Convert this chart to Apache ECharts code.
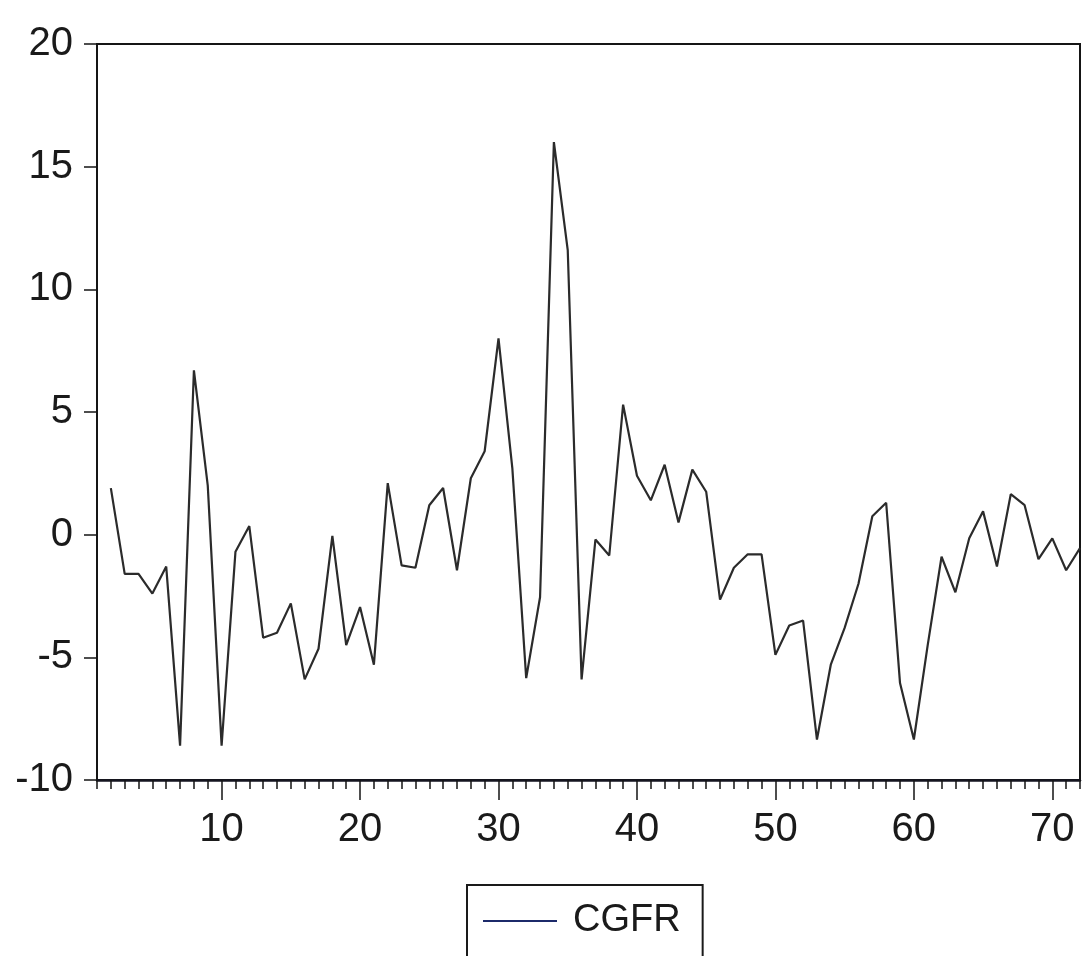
<!DOCTYPE html>
<html>
<head>
<meta charset="utf-8">
<script src="https://cdn.jsdelivr.net/npm/echarts@6/dist/echarts.min.js"></script>
<style>
html,body{margin:0;padding:0;background:#fff;}
#chart{width:1084px;height:956px;}
</style>
</head>
<body>
<div id="chart"></div>
<script>
// Observation numbers (first observation missing)
const obs = [2,3,4,5,6,7,8,9,10,11,12,13,14,15,16,17,18,19,20,21,22,23,24,25,26,27,28,29,30,31,32,33,34,35,36,37,38,39,40,41,42,43,44,45,46,47,48,49,50,51,52,53,54,55,56,57,58,59,60,61,62,63,64,65,66,67,68,69,70,71,72];
// CGFR values
const cgfr = [1.9,-1.6,-1.6,-2.4,-1.3,-8.6,6.7,2.0,-8.6,-0.7,0.35,-4.2,-4.0,-2.8,-5.9,-4.65,-0.05,-4.5,-2.95,-5.3,2.1,-1.25,-1.35,1.2,1.9,-1.45,2.3,3.4,8.0,2.7,-5.85,-2.55,16.0,11.6,-5.9,-0.2,-0.85,5.3,2.4,1.4,2.85,0.5,2.65,1.75,-2.65,-1.35,-0.8,-0.8,-4.9,-3.7,-3.5,-8.35,-5.3,-3.8,-2.0,0.75,1.3,-6.05,-8.35,-4.5,-0.9,-2.35,-0.15,0.95,-1.3,1.65,1.2,-1.0,-0.15,-1.45,-0.55];
const xLabels = [10,20,30,40,50,60,70];
const yTicks = [-10,-5,0,5,10,15,20];
const seriesName = 'CGFR';

const FONT = "'Liberation Sans', Arial, sans-serif";
const chart = echarts.init(document.getElementById('chart'), null, {renderer:'canvas'});
chart.setOption({
  animation: false,
  backgroundColor: '#ffffff',
  grid: {left: 97, right: 4, top: 44, bottom: 176, show: true, borderColor: '#151515', borderWidth: 2, backgroundColor: 'transparent'},
  xAxis: [
    {
      type: 'value', min: 1, max: 72, interval: 1, position: 'bottom',
      axisLine: {show: true, onZero: false, lineStyle: {color: '#151520', width: 2.5}},
      axisTick: {show: true, length: 9, lineStyle: {color: '#151515', width: 1.5}},
      axisLabel: {show: false},
      splitLine: {show: false}
    },
    {
      type: 'value', min: 1, max: 72, position: 'bottom',
      axisLine: {show: false, onZero: false},
      axisTick: {show: true, length: 20, customValues: xLabels, lineStyle: {color: '#151515', width: 1.5}},
      axisLabel: {show: true, customValues: xLabels, margin: 30, fontSize: 40, fontFamily: FONT, color: '#1a1a1a'},
      splitLine: {show: false}
    }
  ],
  yAxis: {
    type: 'value', min: -10, max: 20, interval: 5,
    axisLine: {show: true, onZero: false, lineStyle: {color: '#151515', width: 2}},
    axisTick: {show: true, length: 13, lineStyle: {color: '#151515', width: 1.5}},
    axisLabel: {show: true, margin: 24, fontSize: 40, fontFamily: FONT, color: '#1a1a1a',
      customValues: yTicks},
    splitLine: {show: false}
  },
  legend: {
    show: true, left: 467, top: 885, orient: 'horizontal',
    padding: [14, 22, 30, 16],
    borderColor: '#1a1a1a', borderWidth: 2, backgroundColor: '#fff',
    icon: 'rect', itemWidth: 74, itemHeight: 2,
    itemStyle: {color: '#1c2a6a'},
    textStyle: {fontSize: 38, fontFamily: FONT, color: '#1a1a1a', padding: [0, 0, 0, 11], lineHeight: 44},
    data: [seriesName]
  },
  series: [{
    name: seriesName, type: 'line', xAxisIndex: 0,
    data: obs.map((x, i) => [x, cgfr[i]]),
    symbol: 'none', smooth: false,
    lineStyle: {color: '#2b2b2b', width: 2.2},
    itemStyle: {color: '#2b2b2b'}
  }]
});
</script>
</body>
</html>
